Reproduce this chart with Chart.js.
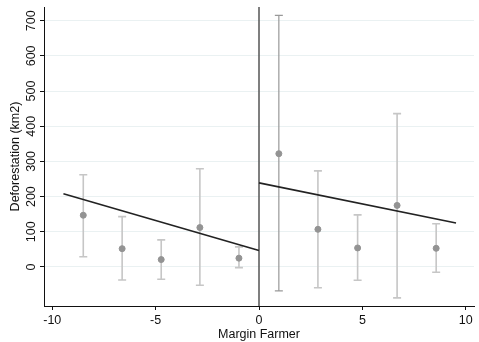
<!DOCTYPE html>
<html>
<head>
<meta charset="utf-8">
<script src="https://cdn.jsdelivr.net/npm/chart.js@4"></script>
<style>
  html, body { margin: 0; padding: 0; background: #fff; }
  #wrap { width: 479px; height: 342px; }
</style>
</head>
<body>
<div id="wrap"><canvas id="rdChart"></canvas></div>
<script>
// binned means with 95% intervals
const binX = [-8.5, -6.62, -4.73, -2.86, -0.97, 0.96, 2.85, 4.77, 6.68, 8.57]
const binMean = [147, 52, 21, 112, 25, 322, 107, 54, 175, 53]
const binLow = [29, -37, -35, -52, -2, -68, -59, -38, -88, -15]
const binHigh = [262, 143, 77, 279, 57, 715, 273, 148, 436, 123]

// linear fits each side of the cutoff
const leftFitX = [-9.46, 0]
const leftFitY = [208, 47]
const rightFitX = [0, 9.53]
const rightFitY = [239, 125]

const xTicks = [-10, -5, 0, 5, 10]
const yTicks = [0, 100, 200, 300, 400, 500, 600, 700]
const cutoff = 0

const font = { family: 'Liberation Sans, Arial, sans-serif', size: 12.5 }
const whiskerColor = (i) => i === 5 ? '#999' : '#c6c6c6'

const toPoints = (xs, ys) => xs.map((x, i) => ({ x: x, y: ys[i] }))

// whiskers + cutoff line, placed through the chart scales
const errorBars = {
  id: 'errorBars',
  beforeDatasetsDraw(chart) {
    const { ctx, scales: { x, y }, chartArea } = chart
    ctx.save()
    ctx.strokeStyle = '#555'
    ctx.lineWidth = 1.5
    ctx.beginPath()
    ctx.moveTo(x.getPixelForValue(cutoff), chartArea.top)
    ctx.lineTo(x.getPixelForValue(cutoff), chartArea.bottom)
    ctx.stroke()

    binX.forEach((bx, i) => {
      const px = x.getPixelForValue(bx)
      const top = y.getPixelForValue(binHigh[i])
      const bot = y.getPixelForValue(binLow[i])
      ctx.strokeStyle = whiskerColor(i)
      ctx.lineWidth = i === 5 ? 1.2 : 1.6
      ctx.beginPath()
      ctx.moveTo(px, top)
      ctx.lineTo(px, bot)
      ctx.moveTo(px - 4, top)
      ctx.lineTo(px + 4, top)
      ctx.moveTo(px - 4, bot)
      ctx.lineTo(px + 4, bot)
      ctx.stroke()
    })
    ctx.restore()
  }
}

new Chart(document.querySelector('#rdChart'), {
  type: 'scatter',
  data: {
    datasets: [{
      label: 'Bin means',
      data: toPoints(binX, binMean),
      backgroundColor: '#939393',
      borderColor: '#939393',
      pointRadius: 3
    }, {
      type: 'line',
      label: 'Fit left',
      data: toPoints(leftFitX, leftFitY),
      borderColor: '#222',
      borderWidth: 1.6,
      pointRadius: 0,
      fill: false
    }, {
      type: 'line',
      label: 'Fit right',
      data: toPoints(rightFitX, rightFitY),
      borderColor: '#222',
      borderWidth: 1.6,
      pointRadius: 0,
      fill: false
    }]
  },
  options: {
    responsive: true,
    maintainAspectRatio: false,
    animation: false,
    layout: { padding: { top: 7, right: 2, left: 0, bottom: 0 } },
    plugins: {
      legend: { display: false },
      tooltip: { enabled: false }
    },
    scales: {
      x: {
        type: 'linear',
        min: -10.4,
        max: 10.4,
        afterBuildTicks: (scale) => { scale.ticks = xTicks.map(v => ({ value: v })) },
        afterFit: (scale) => { scale.height = 36 },
        ticks: { color: '#111', font: font, padding: 3 },
        grid: { drawOnChartArea: false, tickLength: 4, tickColor: '#111' },
        border: { color: '#111', width: 1 },
        title: { display: true, text: 'Margin Farmer', color: '#111', font: font, padding: { top: 0, bottom: 0 } }
      },
      y: {
        type: 'linear',
        min: -111,
        max: 739,
        afterBuildTicks: (scale) => { scale.ticks = yTicks.map(v => ({ value: v })) },
        afterFit: (scale) => { scale.width = 44 },
        ticks: { color: '#111', font: font, minRotation: 90, maxRotation: 90, crossAlign: 'center', padding: -2 },
        grid: { color: '#eaf1f2', lineWidth: 1, tickLength: 4, tickColor: '#111' },
        border: { color: '#111', width: 1 },
        title: { display: true, text: 'Deforestation (km2)', color: '#111', font: font, padding: { top: 8, bottom: 0 } }
      }
    }
  },
  plugins: [errorBars]
})
</script>
</body>
</html>
